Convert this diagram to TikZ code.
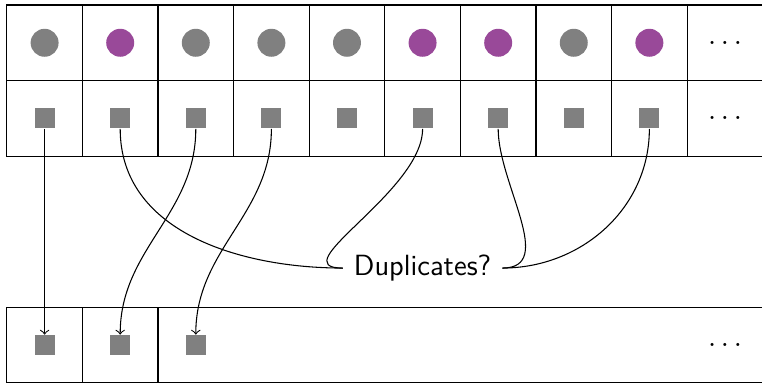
\documentclass[tikz,border=0pt]{standalone}
\usetikzlibrary{arrows}
\definecolor{dupe}{RGB}{153,73,153}

\begin{document}
\begin{tikzpicture}[
  cell/.style={draw, minimum size=1cm, inner sep=0pt, outer sep=0pt},
  key/.style={circle, fill=gray, minimum size=0.37cm, inner sep=0pt},
  val/.style={fill=gray, minimum size=0.265cm, inner sep=0pt},
  font=\sffamily\fontsize{11}{13}\selectfont]
\useasboundingbox (-0.09,0.066) rectangle (9.99,-4.993);

% the table: keys on top, values below
\foreach \x/\c in {0/gray,1/dupe,2/gray,3/gray,4/gray,5/dupe,6/dupe,7/gray,8/dupe} {
  \node[cell] (kc\x) at (\x+0.5,-0.5) {};
  \node[cell] (vc\x) at (\x+0.5,-1.5) {};
  \node[key, fill=\c] (k\x) at (kc\x) {};
  \node[val] (v\x) at (vc\x) {};
}
\node[cell] (kc9) at (9.5,-0.5) {$\dots$};
\node[cell] (vc9) at (9.5,-1.5) {$\dots$};

% output row
\node[cell] (bc0) at (0.5,-4.5) {};
\node[cell] (bc1) at (1.5,-4.5) {};
\node[cell, minimum width=8cm] (bc2) at (6,-4.5) {};
\node at (9.5,-4.5) {$\dots$};
\foreach \x in {0,1,2}
  \node[val] (b\x) at (\x+0.5,-4.5) {};

\draw[->] (v0) -- (b0);
\draw[->] (v2) to[out=-90,in=90] (b1);
\draw[->] (v3) to[out=-90,in=90] (b2);

\node[inner sep=4pt] (dup) at (5.5,-3.48) {Duplicates?};
\foreach \i in {1,5}
  \draw (v\i) to[out=-90,in=180] (dup);
\foreach \i in {6,8}
  \draw (v\i) to[out=-90,in=0] (dup);

\end{tikzpicture}
\end{document}
